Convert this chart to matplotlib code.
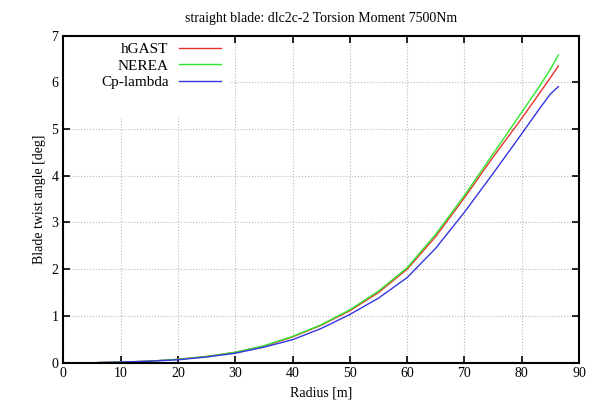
import numpy as np
import matplotlib.pyplot as plt
from matplotlib.patches import Rectangle

plt.rcParams["font.family"] = ["Liberation Serif", "DejaVu Serif"]

radius = [6, 10, 15, 20, 25, 30, 35, 40, 45, 50, 55, 60, 65, 70, 75, 80, 83, 85, 86.4]
hgast = [0.0, 0.01, 0.03, 0.07, 0.13, 0.22, 0.35, 0.55, 0.80, 1.11, 1.50, 2.0, 2.7, 3.53, 4.4, 5.23, 5.75, 6.1, 6.35]
nerea = [0.0, 0.01, 0.03, 0.07, 0.13, 0.22, 0.36, 0.56, 0.81, 1.13, 1.53, 2.03, 2.75, 3.58, 4.47, 5.36, 5.9, 6.28, 6.59]
cplambda = [0.0, 0.01, 0.03, 0.06, 0.12, 0.20, 0.33, 0.49, 0.73, 1.03, 1.38, 1.82, 2.45, 3.22, 4.05, 4.9, 5.42, 5.75, 5.91]

fig = plt.figure(figsize=(5.94, 4.11), dpi=100)
ax = fig.add_axes([0.1066, 0.1178, 0.8682, 0.7954])

ax.plot(radius, hgast, color="#e8312f", lw=1.0, label="hGAST", zorder=3)
ax.plot(radius, nerea, color="#2ee82e", lw=1.0, label="NEREA", zorder=3)
ax.plot(radius, cplambda, color="#3434e0", lw=1.0, label="Cp-lambda", zorder=3)

ax.set_xlim(0, 90)
ax.set_ylim(0, 7)
ax.set_xticks(np.arange(0, 91, 10))
ax.set_yticks(np.arange(0, 8, 1))
ax.set_axisbelow(True)
ax.grid(True, color="#b8b8b8", ls=":", lw=0.8)
ax.tick_params(direction="in", top=True, right=True, length=5, width=1.2, labelsize=10)
for s in ax.spines.values():
    s.set_linewidth(1.5)
    s.set_zorder(5)

# key area blanks the grid, like gnuplot
ax.add_patch(Rectangle((0, 0.751), 0.325, 0.249, transform=ax.transAxes,
                       facecolor="white", edgecolor="none", zorder=1))

ax.set_xlabel("Radius [m]", fontsize=10)
ax.set_ylabel("Blade twist angle [deg]", fontsize=10)
ax.set_title("straight blade: dlc2c-2 Torsion Moment 7500Nm", fontsize=10, pad=10)

leg = ax.legend(loc="upper right", bbox_to_anchor=(0.305, 0.979), markerfirst=False,
                frameon=False, fontsize=11, handlelength=2.75, handletextpad=0.65,
                labelspacing=0.18, borderaxespad=0.0, borderpad=0.0)
leg._legend_box.align = "right"

fig.savefig("out.png", dpi=100)
